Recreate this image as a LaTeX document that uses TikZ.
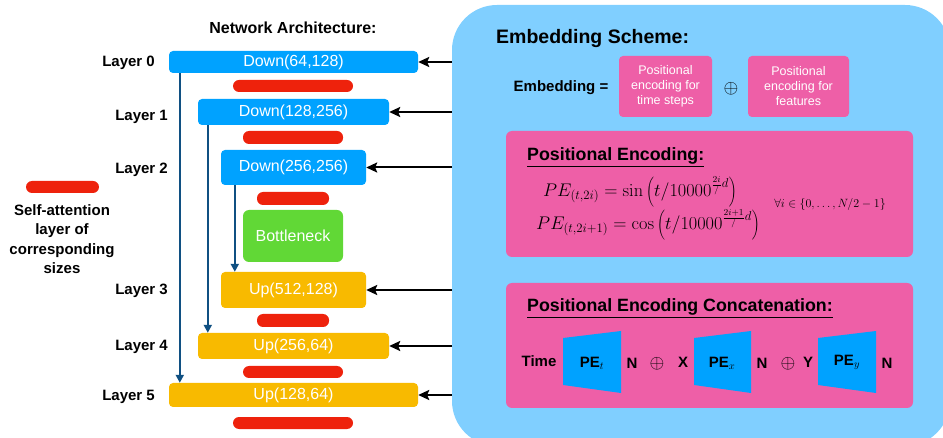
\documentclass[tikz,border=0pt]{standalone}
\usepackage{fix-cm}
\usepackage[no-math]{fontspec}
\setmainfont{Liberation Sans}
\usetikzlibrary{arrows.meta}

\definecolor{downblue}{RGB}{0,162,255}
\definecolor{upyellow}{RGB}{248,186,0}
\definecolor{neckgreen}{RGB}{97,216,54}
\definecolor{attnred}{RGB}{238,34,12}
\definecolor{panelblue}{RGB}{128,207,255}
\definecolor{encpink}{RGB}{238,95,167}
\definecolor{skipblue}{RGB}{16,80,130}

\tikzset{
    block/.style={rounded corners=4pt, inner sep=0pt, text=white, font=\fontsize{16}{19}\selectfont},
    down/.style={block, fill=downblue},
    up/.style={block, fill=upyellow},
    attn/.style={fill=attnred, rounded corners=6pt, inner sep=0pt, minimum height=12pt},
    layer/.style={anchor=east, inner sep=0pt, font=\fontsize{15}{18}\selectfont\bfseries},
    pinkbox/.style={fill=encpink, rounded corners=4pt, inner sep=0pt, text=white, align=center, font=\fontsize{12.5}{15}\selectfont},
    label/.style={inner sep=0pt, font=\fontsize{15}{18}\selectfont\bfseries},
    heading/.style={anchor=west, inner sep=0pt, font=\fontsize{17.8}{21}\selectfont\bfseries},
    eq/.style={inner sep=0pt, font=\fontsize{18.3}{22}\selectfont},
    plus/.style={inner sep=0pt, font=\fontsize{19}{22}\selectfont},
    feed/.style={black, line width=2pt, -{Stealth[length=11pt, width=10pt, inset=2pt]}},
    skip/.style={skipblue, line width=2pt, -{Triangle[length=8pt, width=8pt]}}
}

\begin{document}
\begin{tikzpicture}[x=1pt, y=-1pt]
    \useasboundingbox (0,0) rectangle (943,438);

    % embedding panel
    \fill[panelblue, rounded corners=45pt] (452,5) rectangle (950,446);

    % network
    \node[label] (T_N) at (293,28) {\fontsize{16}{19}\selectfont Network Architecture:};

    \begin{scope}
        \node[down, minimum width=249pt, minimum height=22pt] (D_0) at (293.5,62) {Down(64,128)};
        \node[down, minimum width=191pt, minimum height=26pt] (D_1) at (293.5,112) {Down(128,256)};
        \node[down, minimum width=145pt, minimum height=35pt] (D_2) at (293.5,167.5) {Down(256,256)};
        \node[block, fill=neckgreen, minimum width=100pt, minimum height=52pt, rounded corners=6pt] (B) at (293,236) {Bottleneck};
        \node[up, minimum width=145pt, minimum height=36pt] (U_3) at (293.5,290) {Up(512,128)};
        \node[up, minimum width=191pt, minimum height=26pt] (U_4) at (293.5,346) {Up(256,64)};
        \node[up, minimum width=249pt, minimum height=24pt] (U_5) at (293.5,395) {Up(128,64)};
    \end{scope}

    \begin{scope}
        \node[attn, minimum width=120pt] (S_0) at (293,86) {};
        \node[attn, minimum width=100pt, minimum height=13pt] (S_1) at (293,137.5) {};
        \node[attn, minimum width=72pt, minimum height=13pt] (S_2) at (293,198.5) {};
        \node[attn, minimum width=72pt, minimum height=13pt] (S_3) at (293,320.5) {};
        \node[attn, minimum width=100pt] (S_4) at (293,372) {};
        \node[attn, minimum width=120pt] (S_5) at (293,423) {};
    \end{scope}

    \begin{scope}
        \node[layer] (L_0) at (155,63) {Layer 0};
        \node[layer] (L_1) at (168,117) {Layer 1};
        \node[layer] (L_2) at (168,170) {Layer 2};
        \node[layer] (L_3) at (168,291) {Layer 3};
        \node[layer] (L_4) at (168,347) {Layer 4};
        \node[layer] (L_5) at (155,397) {Layer 5};
    \end{scope}

    % legend
    \node[attn, minimum width=73pt] (S_L) at (62.5,187) {};
    \node[label, align=center, font=\fontsize{15}{19.3}\selectfont\bfseries] (T_L) at (62,239) {Self-attention\\layer of\\corresponding\\sizes};

    % skip connections
    \draw[skip] ([xshift=11pt]D_0.south west) -- ([xshift=11pt]U_5.north west);
    \draw[skip] ([xshift=10pt]D_1.south west) -- ([xshift=10pt]U_4.north west);
    \draw[skip] ([xshift=14pt]D_2.south west) -- ([xshift=14pt]U_3.north west);

    % embedding fed into every layer
    \coordinate (P_0) at (452,62);
    \coordinate (P_1) at (452,112);
    \coordinate (P_2) at (452,167.5);
    \coordinate (P_3) at (452,290);
    \coordinate (P_4) at (452,346);
    \coordinate (P_5) at (452,395);
    \draw[feed] (P_0) -- (D_0);
    \draw[feed] (P_1) -- (D_1);
    \draw[feed] (P_2) -- (D_2);
    \draw[feed] (P_3) -- (U_3);
    \draw[feed] (P_4) -- (U_4);
    \draw[feed] (P_5) -- (U_5);

    % embedding scheme
    \node[heading, font=\fontsize{19.5}{23}\selectfont\bfseries] (T_E) at (496,39) {Embedding Scheme:};
    \node[label] (E_L) at (561,88) {Embedding =};
    \node[pinkbox, minimum width=93pt, minimum height=61pt] (PE_T) at (665.5,86.5) {Positional\\encoding for\\time steps};
    \node[plus] (O_0) at (731,89) {$\oplus$};
    \node[pinkbox, minimum width=101pt, minimum height=61pt] (PE_F) at (798.5,86.5) {Positional\\encoding for\\features};

    % positional encoding
    \node[fill=encpink, rounded corners=6pt, minimum width=407pt, minimum height=126pt] (C_1) at (709.5,194) {};
    \node[heading] (T_P) at (527,157) {\underline{Positional Encoding:}};
    \node[eq] (E_1) at (640,192) {$PE_{(t,2i)} = \sin\left(t/10000^{\frac{2i}{/}d}\right)$};
    \node[eq] (E_2) at (648,225) {$PE_{(t,2i+1)} = \cos\left(t/10000^{\frac{2i+1}{/}d}\right)$};
    \node[eq, font=\fontsize{12}{14}\selectfont] (E_3) at (830,205) {$\forall i \in \{0,\ldots,N/2-1\}$};

    % concatenation
    \node[fill=encpink, rounded corners=6pt, minimum width=407pt, minimum height=125pt] (C_2) at (709.5,345.5) {};
    \node[heading] (T_C) at (527,308) {\underline{Positional Encoding Concatenation:}};

    \fill[downblue] (563,338) -- (621,331) -- (621,393) -- (563,385) -- cycle;
    \fill[downblue] (694,338) -- (751,331) -- (751,393) -- (694,385) -- cycle;
    \fill[downblue] (818,338) -- (876,331) -- (876,393) -- (818,385) -- cycle;

    \node[label] (R_T) at (539,361) {Time};
    \node[label] (PE_1) at (592,363) {PE$_t$};
    \node[label] (N_1) at (632,363) {N};
    \node[plus] (O_1) at (657,364) {$\oplus$};
    \node[label] (R_X) at (683,362) {X};
    \node[label] (PE_2) at (722,363) {PE$_x$};
    \node[label] (N_2) at (762,363) {N};
    \node[plus] (O_2) at (788,364) {$\oplus$};
    \node[label] (R_Y) at (808,362) {Y};
    \node[label] (PE_3) at (847,362) {PE$_y$};
    \node[label] (N_3) at (887,363) {N};
\end{tikzpicture}
\end{document}
